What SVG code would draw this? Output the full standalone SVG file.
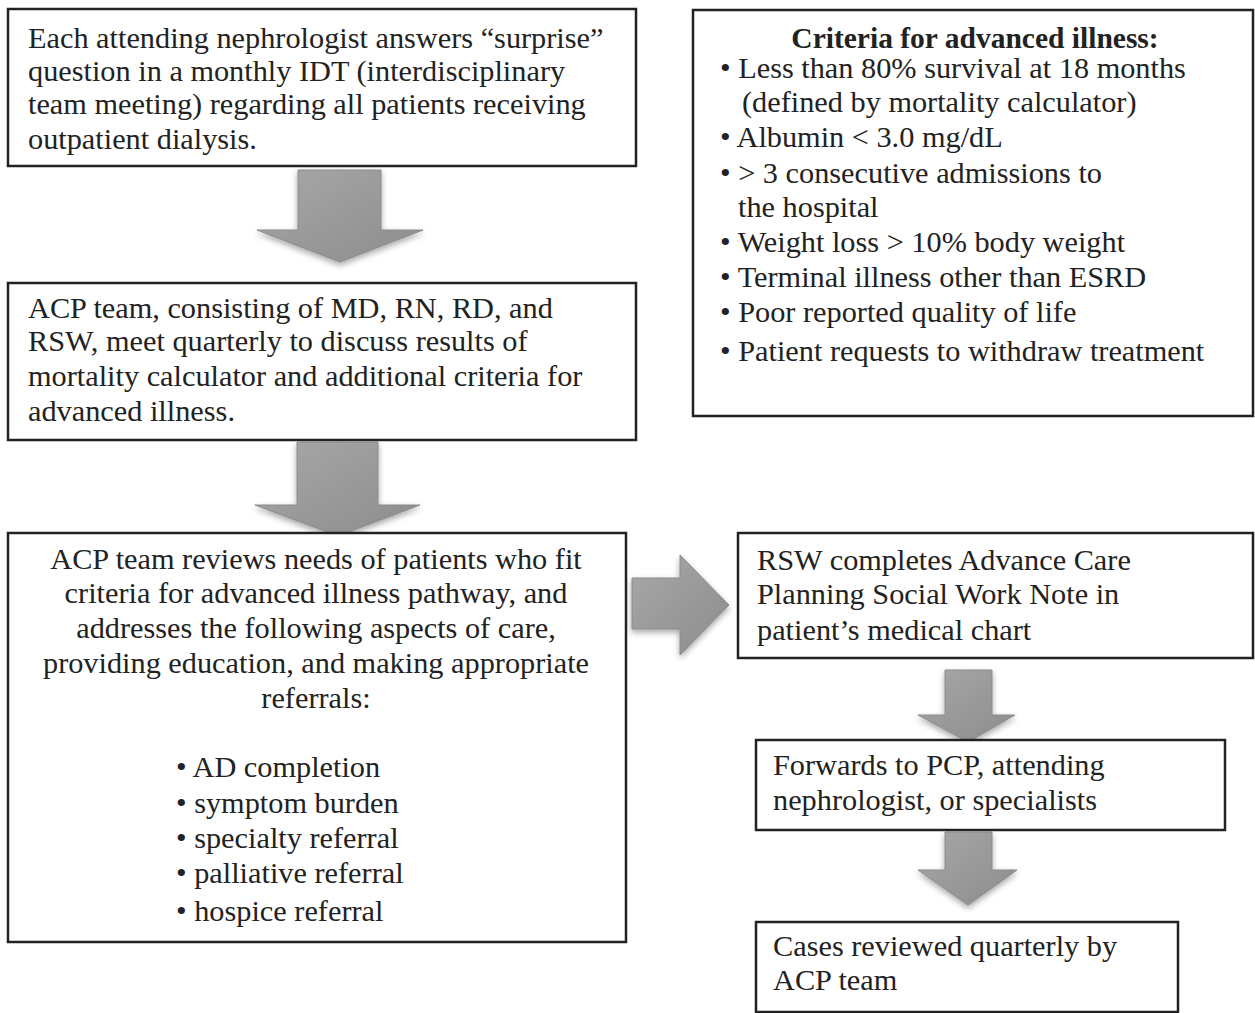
<svg xmlns="http://www.w3.org/2000/svg" width="1255" height="1013" viewBox="0 0 1255 1013">
<style>
.box{fill:#fff;stroke:#222;stroke-width:2.5}
.t{font-family:"Liberation Serif","Times New Roman",serif;font-size:30.3px;fill:#222}
.b{font-weight:bold;font-size:29.5px}
.arr{fill:url(#g);stroke:#8a8a8a;stroke-width:1}
</style>
<defs>
<linearGradient id="g" x1="0" y1="0" x2="1" y2="1">
<stop offset="0" stop-color="#a8a8a8"/>
<stop offset="1" stop-color="#8c8c8c"/>
</linearGradient>
<filter id="sh" x="-20%" y="-20%" width="140%" height="140%">
<feGaussianBlur in="SourceAlpha" stdDeviation="3"/>
<feOffset dx="0" dy="3" result="o"/>
<feComponentTransfer><feFuncA type="linear" slope="0.35"/></feComponentTransfer>
<feMerge><feMergeNode/><feMergeNode in="SourceGraphic"/></feMerge>
</filter>
</defs>
<rect width="1255" height="1013" fill="#fff"/>
<g id="connectors" filter="url(#sh)">
<path class="arr" d="M298,170 H381 V230 H423 L340,262 L257,230 H298 Z"/>
<path class="arr" d="M297,442 H378 V505 H420 L338,536 L255,505 H297 Z"/>
<path class="arr" d="M632,578 H680 V555 L729,605 L680,655 V629 H632 Z"/>
<path class="arr" d="M945,670 H992 V715 H1015 L968,742 L918,715 H945 Z"/>
<path class="arr" d="M945,832 H992 V870 H1017 L968,905 L918,870 H945 Z"/>
</g>
<g id="n1">
<rect class="box" x="8" y="9" width="628" height="157"/>
<text class="t" x="28" y="48">Each attending nephrologist answers “surprise”</text>
<text class="t" x="28" y="81">question in a monthly IDT (interdisciplinary</text>
<text class="t" x="28" y="114">team meeting) regarding all patients receiving</text>
<text class="t" x="28" y="149">outpatient dialysis.</text>
</g>
<g id="n2">
<rect class="box" x="693" y="10" width="560" height="406"/>
<text class="t b" x="975" y="48" text-anchor="middle">Criteria for advanced illness:</text>
<text class="t" x="720" y="78">• Less than 80% survival at 18 months</text>
<text class="t" x="742" y="112">(defined by mortality calculator)</text>
<text class="t" x="720" y="147">• Albumin &lt; 3.0 mg/dL</text>
<text class="t" x="720" y="183">• &gt; 3 consecutive admissions to</text>
<text class="t" x="738" y="217">the hospital</text>
<text class="t" x="720" y="252">• Weight loss &gt; 10% body weight</text>
<text class="t" x="720" y="287">• Terminal illness other than ESRD</text>
<text class="t" x="720" y="322">• Poor reported quality of life</text>
<text class="t" x="720" y="361">• Patient requests to withdraw treatment</text>
</g>
<g id="n3">
<rect class="box" x="8" y="283" width="628" height="157"/>
<text class="t" x="28" y="318">ACP team, consisting of MD, RN, RD, and</text>
<text class="t" x="28" y="351">RSW, meet quarterly to discuss results of</text>
<text class="t" x="28" y="386">mortality calculator and additional criteria for</text>
<text class="t" x="28" y="421">advanced illness.</text>
</g>
<g id="n4">
<rect class="box" x="8" y="533" width="618" height="409"/>
<text class="t" x="316" y="569" text-anchor="middle">ACP team reviews needs of patients who fit</text>
<text class="t" x="316" y="603" text-anchor="middle">criteria for advanced illness pathway, and</text>
<text class="t" x="316" y="638" text-anchor="middle">addresses the following aspects of care,</text>
<text class="t" x="316" y="673" text-anchor="middle">providing education, and making appropriate</text>
<text class="t" x="316" y="708" text-anchor="middle">referrals:</text>
<text class="t" x="176" y="777">• AD completion</text>
<text class="t" x="176" y="813">• symptom burden</text>
<text class="t" x="176" y="848">• specialty referral</text>
<text class="t" x="176" y="883">• palliative referral</text>
<text class="t" x="176" y="921">• hospice referral</text>
</g>
<g id="n5">
<rect class="box" x="738" y="533" width="515" height="125"/>
<text class="t" x="757" y="570">RSW completes Advance Care</text>
<text class="t" x="757" y="604">Planning Social Work Note in</text>
<text class="t" x="757" y="640">patient’s medical chart</text>
</g>
<g id="n6">
<rect class="box" x="756" y="740" width="469" height="90"/>
<text class="t" x="773" y="775">Forwards to PCP, attending</text>
<text class="t" x="773" y="810">nephrologist, or specialists</text>
</g>
<g id="n7">
<rect class="box" x="756" y="922" width="422" height="90"/>
<text class="t" x="773" y="956">Cases reviewed quarterly by</text>
<text class="t" x="773" y="990">ACP team</text>
</g>
</svg>
